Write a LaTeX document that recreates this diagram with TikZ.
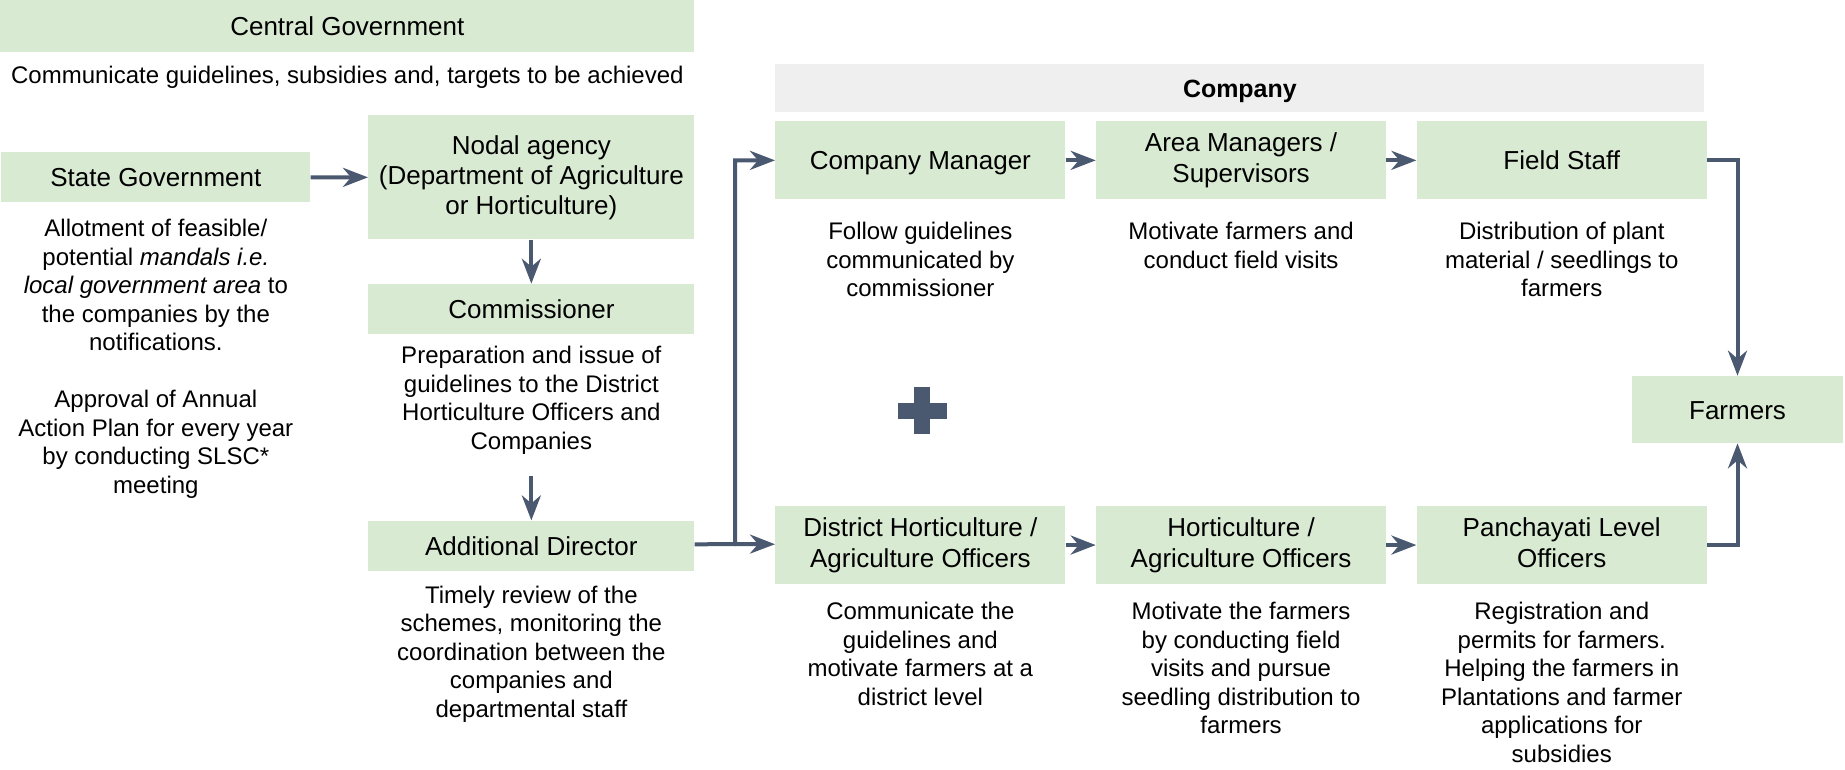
\documentclass[tikz,border=0pt]{standalone}
\usepackage{fontspec}
\setmainfont{Liberation Sans}
\usepackage{tikz}
\usetikzlibrary{positioning,arrows.meta}
\definecolor{boxgreen}{RGB}{217, 234, 211}
\definecolor{headgrey}{RGB}{239, 239, 239}
\definecolor{arrowslate}{RGB}{74, 88, 112}
\newcommand{\ttlfont}{\fontsize{14.8}{17.6}\selectfont}
\newcommand{\dscfont}{\fontsize{13.66}{16.22}\selectfont}

\begin{document}
\begin{tikzpicture}[
        capmid/.style={execute at begin node={\rule{0pt}{0.94em}}, execute at end node={\rule[-0.21em]{0pt}{0.21em}}},
        box/.style={rectangle, fill=boxgreen, inner sep=0pt, align=center, font=\ttlfont, capmid},
        note/.style={inner sep=0pt, align=center, font=\dscfont},
        link/.style={->, arrowslate, line width=0.08cm},
        >={Stealth[length=0.5cm, width=0.38cm, inset=0.16cm]}]
        \useasboundingbox (0,0) rectangle (36.9,-15.38);

        \node[box, anchor=north west, minimum width=13.88cm, minimum height=1.04cm] (central) at (0,0) {Central Government};
        \node[note, below=0.26cm of central] (centraltxt) {Communicate guidelines, subsidies and, targets to be achieved};

        \node[box, anchor=north west, minimum width=6.18cm, minimum height=1cm] (state) at (0.02,-3.04) {State Government};
        \node[note, below=0.33cm of state] (statetxt) {Allotment of feasible/\\ potential \textit{mandals i.e.}\\ \textit{local government area} to\\ the companies by the\\ notifications.\\[16.22pt] Approval of Annual\\ Action Plan for every year\\ by conducting SLSC*\\ meeting};

        \node[box, anchor=north west, minimum width=6.52cm, minimum height=2.48cm, font=\fontsize{14.8}{17.1}\selectfont] (nodal) at (7.36,-2.30) {Nodal agency\\ (Department of Agriculture\\ or Horticulture)};
        \node[box, below=0.88cm of nodal, minimum width=6.52cm, minimum height=1cm] (comm) {Commissioner};
        \node[note, below=0.23cm of comm] (commtxt) {Preparation and issue of\\ guidelines to the District\\ Horticulture Officers and\\ Companies};
        \node[box, below=3.72cm of comm, minimum width=6.52cm, minimum height=1cm] (addl) {Additional Director};
        \node[note, below=0.29cm of addl] (addltxt) {Timely review of the\\ schemes, monitoring the\\ coordination between the\\ companies and\\ departmental staff};

        \node[rectangle, fill=headgrey, inner sep=0pt, anchor=north west, minimum width=18.58cm, minimum height=0.96cm, font=\fontsize{14.2}{17}\selectfont\bfseries, capmid] (company) at (15.5,-1.28) {Company};

        \node[box, anchor=north west, minimum width=5.8cm, minimum height=1.56cm] (cm) at (15.5,-2.42) {Company Manager};
        \node[box, right=0.6cm of cm, minimum width=5.8cm, minimum height=1.56cm] (am) {Area Managers /\\ Supervisors};
        \node[box, right=0.6cm of am, minimum width=5.8cm, minimum height=1.56cm] (fs) {Field Staff};
        \node[note, below=0.45cm of cm] (cmtxt) {Follow guidelines\\ communicated by\\ commissioner};
        \node[note, below=0.45cm of am] (amtxt) {Motivate farmers and\\ conduct field visits};
        \node[note, below=0.45cm of fs] (fstxt) {Distribution of plant\\ material / seedlings to\\ farmers};

        \node[box, below=6.12cm of cm, minimum width=5.8cm, minimum height=1.56cm] (dho) {District Horticulture /\\ Agriculture Officers};
        \node[box, right=0.6cm of dho, minimum width=5.8cm, minimum height=1.56cm] (hao) {Horticulture /\\ Agriculture Officers};
        \node[box, right=0.6cm of hao, minimum width=5.8cm, minimum height=1.56cm] (plo) {Panchayati Level\\ Officers};
        \node[note, below=0.35cm of dho] (dhotxt) {Communicate the\\ guidelines and\\ motivate farmers at a\\ district level};
        \node[note, below=0.35cm of hao] (haotxt) {Motivate the farmers\\ by conducting field\\ visits and pursue\\ seedling distribution to\\ farmers};
        \node[note, below=0.35cm of plo] (plotxt) {Registration and\\ permits for farmers.\\ Helping the farmers in\\ Plantations and farmer\\ applications for\\ subsidies};

        \node[box, minimum width=4.22cm, minimum height=1.34cm] (farm) at (34.75,-8.19) {Farmers};

        \fill[arrowslate] (17.96,-8.06) rectangle (18.94,-8.38);
        \fill[arrowslate] (18.28,-7.74) rectangle (18.60,-8.68);

        \coordinate (split) at (14.7,-10.88);

        \draw[link] (state) -- (nodal);
        \draw[link] (nodal) -- (comm);
        \draw[link, shorten <=0.42cm] (commtxt) -- (addl);
        \draw[link] (addl) -- (split) |- (cm);
        \draw[link] (split) -- (dho);
        \draw[link] (cm) -- (am);
        \draw[link] (am) -- (fs);
        \draw[link] (dho) -- (hao);
        \draw[link] (hao) -- (plo);
        \draw[link] (fs) -| (farm);
        \draw[link] (plo) -| (farm);
    \end{tikzpicture}
\end{document}
